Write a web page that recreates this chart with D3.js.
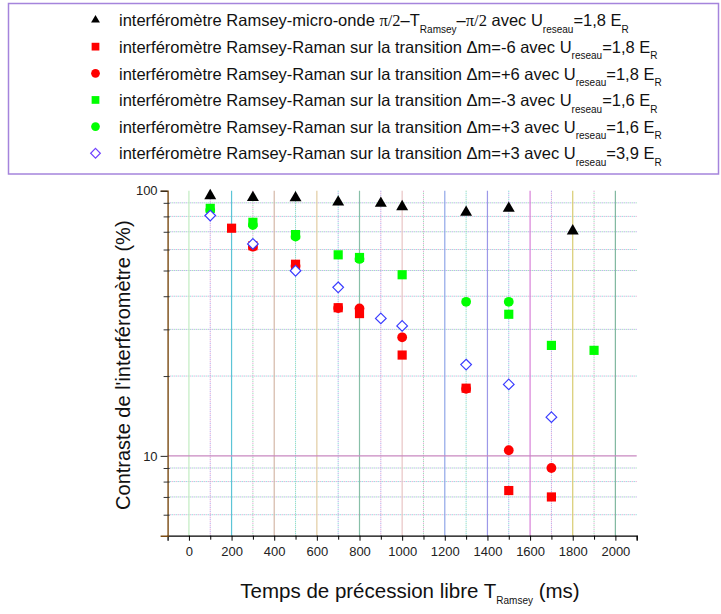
<!DOCTYPE html>
<html>
<head>
<meta charset="utf-8">
<script src="https://cdn.jsdelivr.net/npm/d3@7"></script>
<style>
  html, body { margin: 0; padding: 0; background: #fff; }
  svg { display: block; font-family: "Liberation Sans", Arial, sans-serif; }
</style>
</head>
<body>
<svg id="chart" width="721" height="614"></svg>
<script>
// ---------- data ----------
const triX = [100, 300, 500, 700, 900, 1000, 1300, 1500, 1800];
const triY = [95.7, 94.2, 94.0, 90.6, 89.6, 87.0, 82.9, 85.8, 70.5];

const redSqX = [200, 300, 500, 700, 800, 1000, 1300, 1500, 1700];
const redSqY = [72.2, 62.0, 52.8, 36.2, 34.4, 24.0, 18.0, 7.4, 7.0];

const redCiX = [300, 500, 700, 800, 1000, 1300, 1500, 1700];
const redCiY = [61.5, 52.0, 36.1, 36.0, 28.0, 17.9, 10.5, 9.0];

const grnSqX = [100, 300, 500, 700, 800, 1000, 1500, 1700, 1900];
const grnSqY = [85.8, 76.0, 68.3, 57.3, 56.0, 48.2, 34.2, 26.1, 25.0];

const grnCiX = [100, 300, 500, 800, 1300, 1500];
const grnCiY = [84.5, 74.2, 67.1, 55.3, 38.1, 38.1];

const diaX = [100, 300, 500, 700, 900, 1000, 1300, 1500, 1700];
const diaY = [80.6, 63.0, 49.9, 43.2, 33.0, 30.9, 22.1, 18.6, 14.0];

const xMajorTicks = [0, 200, 400, 600, 800, 1000, 1200, 1400, 1600, 1800, 2000];
const xMinorTicks = [100, 300, 500, 700, 900, 1100, 1300, 1500, 1700, 1900];
const yMajorTicks = [10, 100];
const yMinorTicks = [6, 7, 8, 9, 20, 30, 40, 50, 60, 70, 80, 90];

const legendU = ["1,8", "1,8", "1,8", "1,6", "1,6", "3,9"];
const legendDm = ["", "-6", "+6", "-3", "+3", "+3"];

// ---------- styles ----------
const vGridColors = ["#c2ecc2", "#5cc4d6", "#d4b8a8", "#e2cca2", "#88bfa8", "#e8c4c4",
                     "#90a6e8", "#9c98e8", "#d880d8", "#d8cc70", "#80b8a0"];
const dotColors = ["#7fd8d8", "#b0a0e8", "#e0a0d0", "#90d8b0"];

const svg = d3.select("#chart");

const x = d3.scaleLinear().domain([-100, 2100]).range([167.6, 636.7]);
const y = d3.scaleLog().domain([5, 100]).range([535.7, 190.7]);

// ---------- legend box ----------
svg.append("rect")
  .attr("x", 8.5).attr("y", 3.5).attr("width", 710).attr("height", 170.5)
  .attr("fill", "#fff").attr("stroke", "#a584dc").attr("stroke-width", 1.5);

// ---------- grid ----------
const grid = svg.append("g");
yMinorTicks.forEach((v, i) => {
  [0, 1].forEach(k => {
    grid.append("line")
      .attr("x1", x(-100)).attr("x2", x(2100))
      .attr("y1", y(v)).attr("y2", y(v))
      .attr("stroke", dotColors[(i + k * 2) % dotColors.length])
      .attr("stroke-width", 1)
      .attr("stroke-dasharray", "1.2,2.8")
      .attr("stroke-dashoffset", k * 2);
  });
});
xMinorTicks.forEach((v, i) => {
  [0, 1].forEach(k => {
    grid.append("line")
      .attr("x1", x(v)).attr("x2", x(v))
      .attr("y1", y(100)).attr("y2", y(5))
      .attr("stroke", dotColors[(i + k + 1) % dotColors.length])
      .attr("stroke-width", 1)
      .attr("stroke-dasharray", "1.2,2.8")
      .attr("stroke-dashoffset", k * 2);
  });
});
xMajorTicks.forEach((v, i) => {
  grid.append("line")
    .attr("x1", x(v)).attr("x2", x(v))
    .attr("y1", y(100)).attr("y2", y(5))
    .attr("stroke", vGridColors[i])
    .attr("stroke-width", 1.2);
});
grid.append("line")
  .attr("x1", x(-100)).attr("x2", x(2100))
  .attr("y1", y(10)).attr("y2", y(10))
  .attr("stroke", "#c888c0").attr("stroke-width", 1.2);

// ---------- axes ----------
const xAxis = svg.append("g").attr("transform", `translate(0,${y(5)})`)
  .call(d3.axisBottom(x).tickValues(xMajorTicks).tickSize(5).tickPadding(6).tickFormat(d3.format("d")));
xAxis.select(".domain").attr("stroke", "#000").attr("stroke-width", 1.3);
xAxis.selectAll("text").attr("font-size", 13).attr("fill", "#222")
  .attr("font-family", "Liberation Sans, Arial, sans-serif");
svg.append("g").attr("transform", `translate(0,${y(5)})`)
  .call(d3.axisBottom(x).tickValues(xMinorTicks.concat([2100])).tickSize(4).tickFormat(""))
  .call(g => g.select(".domain").remove());

const yAxis = svg.append("g").attr("transform", `translate(${x(-100)},0)`)
  .call(d3.axisLeft(y).tickValues(yMajorTicks).tickSize(7).tickPadding(3).tickFormat(d3.format("d")));
yAxis.select(".domain").attr("stroke", "#7a4a12").attr("stroke-width", 1.4);
yAxis.selectAll(".tick line").attr("stroke", "#222");
yAxis.selectAll("text").attr("font-size", 13).attr("fill", "#222")
  .attr("font-family", "Liberation Sans, Arial, sans-serif");
svg.append("g").attr("transform", `translate(${x(-100) + 2},0)`)
  .call(d3.axisLeft(y).tickValues(yMinorTicks).tickSize(6).tickFormat(""))
  .call(g => g.select(".domain").remove())
  .selectAll("line").attr("stroke", "#333");

// ---------- axis titles ----------
svg.append("text")
  .attr("transform", `translate(130,${(y(5) + y(100)) / 2 + 2}) rotate(-90)`)
  .attr("text-anchor", "middle")
  .attr("font-size", 20).attr("fill", "#111")
  .text("Contraste de l'interféromètre (%)");

const xt = svg.append("text")
  .attr("x", 410).attr("y", 598)
  .attr("text-anchor", "middle")
  .attr("font-size", 20.5).attr("fill", "#111");
xt.append("tspan").text("Temps de précession libre T");
xt.append("tspan").attr("font-size", 10).attr("dy", 6).text("Ramsey");
xt.append("tspan").attr("dy", -6).text(" (ms)");

// ---------- markers ----------
const marks = svg.append("g");
const sym = (type, size) => d3.symbol().type(type).size(size)();

function drawSeries(xs, ys, type, size, fill, stroke, sw) {
  marks.append("g").selectAll("path")
    .data(xs.map((d, i) => [d, ys[i]]))
    .join("path")
    .attr("transform", d => `translate(${x(d[0])},${y(d[1])})`)
    .attr("d", sym(type, size))
    .attr("fill", fill)
    .attr("stroke", stroke)
    .attr("stroke-width", sw);
}

drawSeries(triX, triY, d3.symbolTriangle, 62, "#000", "none", 0);
drawSeries(redSqX, redSqY, d3.symbolSquare, 84, "#ff0000", "none", 0);
drawSeries(redCiX, redCiY, d3.symbolCircle, 75, "#ff0000", "none", 0);
drawSeries(grnSqX, grnSqY, d3.symbolSquare, 84, "#00ff00", "none", 0);
drawSeries(grnCiX, grnCiY, d3.symbolCircle, 75, "#00ff00", "none", 0);
drawSeries(diaX, diaY, d3.symbolDiamond2, 72, "#fff", "#3a3cff", 1.2);

// ---------- legend ----------
const legendTypes = [d3.symbolTriangle, d3.symbolSquare, d3.symbolCircle, d3.symbolSquare, d3.symbolCircle, d3.symbolDiamond2];
const legendFills = ["#000", "#ff0000", "#ff0000", "#00ff00", "#00ff00", "#fff"];
const legendSizes = [34, 60, 60, 60, 60, 60];
const rowY = d3.range(6).map(i => 20 + i * 26.65);

const lg = svg.append("g");
legendTypes.forEach((t, i) => {
  lg.append("path")
    .attr("transform", `translate(95.5,${rowY[i]})`)
    .attr("d", sym(t, legendSizes[i]))
    .attr("fill", legendFills[i])
    .attr("stroke", i === 5 ? "#7040ff" : "none")
    .attr("stroke-width", 1.2);

  const tx = lg.append("text")
    .attr("x", 119).attr("y", rowY[i] + 6.2)
    .attr("font-size", 16.5).attr("fill", "#111");
  if (i === 0) {
    tx.append("tspan").text("interféromètre Ramsey-micro-onde ");
    tx.append("tspan").attr("font-family", "Liberation Serif, serif").text("π/2");
    tx.append("tspan").text("–T");
    tx.append("tspan").attr("font-size", 10).attr("dy", 6.5).text("Ramsey");
    tx.append("tspan").attr("dy", -6.5).text("–");
    tx.append("tspan").attr("font-family", "Liberation Serif, serif").text("π/2");
    tx.append("tspan").text(" avec U");
  } else {
    tx.append("tspan").text(`interféromètre Ramsey-Raman sur la transition Δm=${legendDm[i]} avec U`);
  }
  tx.append("tspan").attr("font-size", 10).attr("dy", 6.5).text("reseau");
  tx.append("tspan").attr("dy", -6.5).text(`=${legendU[i]} E`);
  tx.append("tspan").attr("font-size", 10).attr("dy", 6.5).text("R");
});
</script>
</body>
</html>
